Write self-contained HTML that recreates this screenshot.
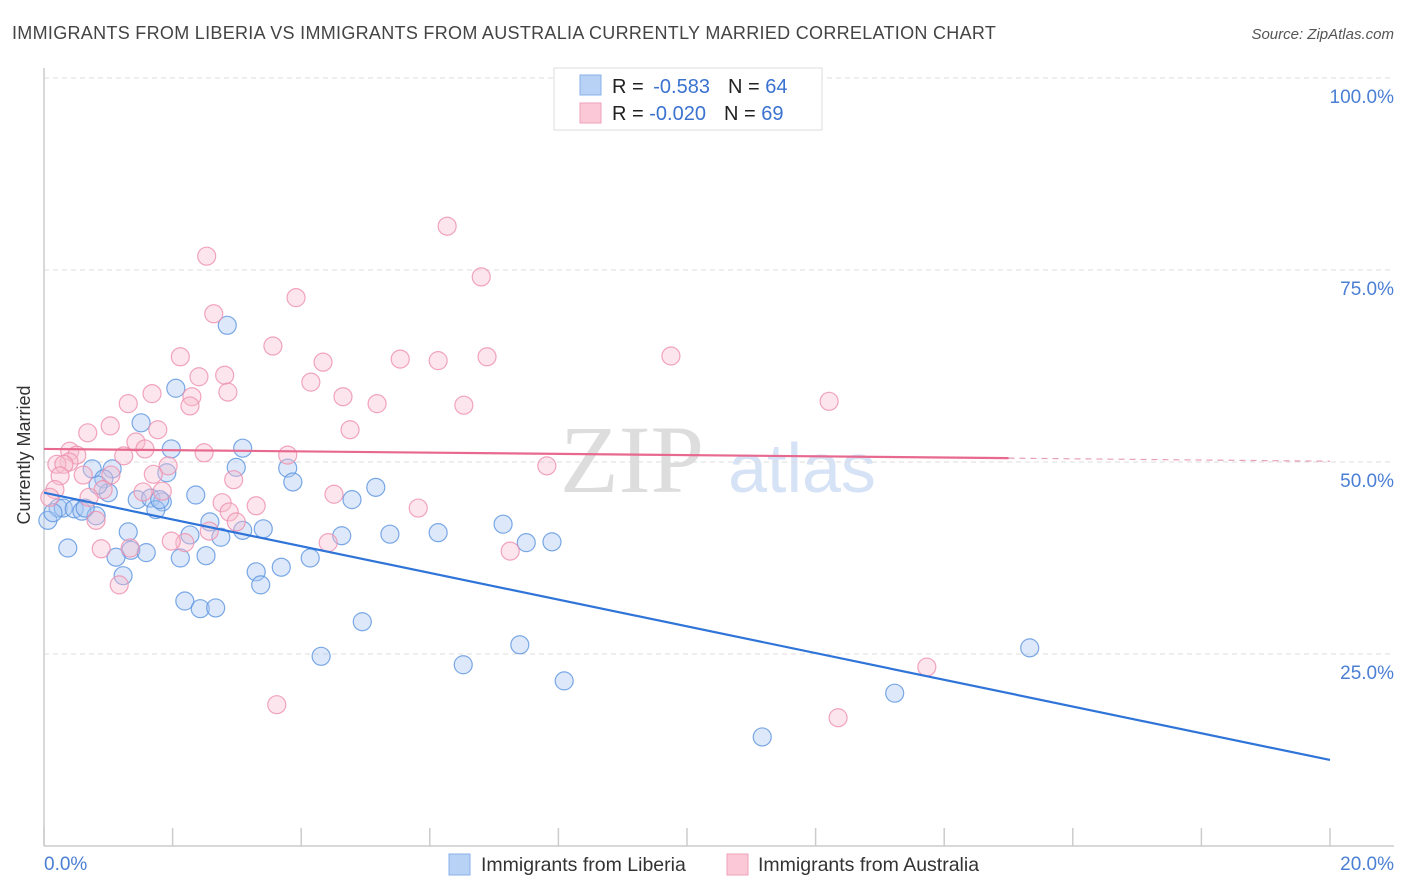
<!DOCTYPE html>
<html><head><meta charset="utf-8"><style>
body{margin:0;background:#fff;font-family:"Liberation Sans",sans-serif}
svg{display:block}
</style></head><body>
<svg id="c" width="1406" height="892" xmlns="http://www.w3.org/2000/svg">
<text x="12" y="39" font-size="18" fill="#444" letter-spacing="0.3">IMMIGRANTS FROM LIBERIA VS IMMIGRANTS FROM AUSTRALIA CURRENTLY MARRIED CORRELATION CHART</text>
<text x="1394" y="39" font-size="15" fill="#555" font-style="italic" text-anchor="end">Source: ZipAtlas.com</text>
<text x="632" y="492" font-size="96" fill="#ddd" font-family="Liberation Serif,serif" text-anchor="middle">ZIP</text>
<text x="802" y="492" font-size="70" fill="#d6e2f5" text-anchor="middle">atlas</text>
<g id="grid"></g><g id="marks"></g><g id="trend"></g>
<text x="30" y="455" font-size="18" fill="#333" text-anchor="middle" transform="rotate(-90 30 455)">Currently Married</text>
<text x="44" y="870" font-size="19" fill="#4a7fd4">0.0%</text>
<text x="1394" y="870" font-size="19" fill="#4a7fd4" text-anchor="end">20.0%</text>
<g>
<rect x="554" y="68" width="268" height="62" fill="#fff" stroke="#ddd"/>
<rect x="580" y="75" width="21" height="20" fill="#b8d2f5" stroke="#8ab2ea"/>
<rect x="580" y="103" width="21" height="20" fill="#fac8d6" stroke="#f0a0b8"/>
<text x="612" y="93" font-size="20" fill="#222">R = <tspan fill="#3a72d0" dx="4">-0.583</tspan><tspan dx="18">N = </tspan><tspan fill="#3a72d0">64</tspan></text>
<text x="612" y="120" font-size="20" fill="#222">R = <tspan fill="#3a72d0">-0.020</tspan><tspan dx="18">N = </tspan><tspan fill="#3a72d0">69</tspan></text>
</g>
<g>
<rect x="449" y="854" width="21" height="21" fill="#b8d2f5" stroke="#8ab2ea"/>
<text x="481" y="871" font-size="19.5" fill="#333">Immigrants from Liberia</text>
<rect x="727" y="854" width="21" height="21" fill="#fac8d6" stroke="#f0a0b8"/>
<text x="758" y="871" font-size="19.5" fill="#333">Immigrants from Australia</text>
</g>
</svg>
<script>
const yTicks=[25,50,75,100];
const blueX=[2.85,2.05,1.51,1.98,3.09,1.06,0.75,2.99,3.79,1.91,0.93,3.87,2.36,1.00,1.45,1.66,1.84,5.16,4.79,1.74,0.22,0.30,0.47,0.59,0.81,2.58,3.41,1.31,7.14,3.09,2.27,2.75,4.63,5.38,6.13,7.50,7.90,0.37,1.35,1.12,1.59,2.12,2.52,4.14,3.30,3.69,1.23,3.37,2.19,2.43,2.67,4.95,4.31,7.40,6.52,8.09,15.33,13.23,11.17,0.06,0.14,0.64,1.80,0.84];
const blueY=[67.8,59.6,55.1,51.7,51.8,49.1,49.1,49.3,49.2,48.6,47.8,47.4,45.7,46.0,45.1,45.3,44.8,46.7,45.1,43.8,44.0,44.0,43.9,43.6,43.0,42.2,41.3,40.9,41.9,41.1,40.5,40.2,40.4,40.6,40.8,39.5,39.6,38.8,38.5,37.6,38.2,37.5,37.8,37.5,35.7,36.3,35.2,34.0,31.9,30.9,31.0,29.2,24.7,26.2,23.6,21.5,25.8,19.9,14.2,42.4,43.4,44.0,45.1,47.0];
const pinkX=[6.27,2.53,6.80,3.92,2.64,3.56,9.75,2.12,4.34,5.54,6.13,6.89,2.81,2.41,4.15,2.86,1.68,2.30,4.65,1.31,5.18,6.53,12.21,2.27,1.03,0.68,4.76,1.77,1.43,1.57,2.49,3.79,0.40,0.51,1.24,0.39,0.20,0.31,7.82,1.93,2.95,1.70,1.04,0.61,0.25,0.92,1.84,1.54,4.51,0.17,0.09,2.77,3.30,5.82,0.70,2.88,0.81,2.99,2.57,2.19,0.89,4.42,1.98,7.25,1.34,1.17,13.73,3.62,12.35];
const pinkY=[80.7,76.8,74.1,71.4,69.3,65.1,63.8,63.7,63.0,63.4,63.2,63.7,61.3,61.1,60.4,59.1,58.9,58.5,58.5,57.6,57.6,57.4,57.9,57.3,54.7,53.8,54.2,54.2,52.6,51.7,51.2,50.9,51.4,50.9,50.8,50.0,49.7,49.7,49.5,49.5,47.7,48.4,48.3,48.3,48.2,46.4,46.2,46.1,45.8,46.4,45.4,44.7,44.3,44.0,45.4,43.5,42.4,42.2,41.0,39.5,38.7,39.5,39.7,38.4,38.8,34.0,23.3,18.4,16.7];
const blueTrend=[46.0,11.2];
const pinkTrend=[51.7,50.5,50.1];
const pinkSolidEnd=15;
const NS='http://www.w3.org/2000/svg';
const X=v=>44+v/20*1286, Y=v=>846-v/100*768;
function mk(t,a,p){const e=document.createElementNS(NS,t);for(const k in a)e.setAttribute(k,a[k]);document.getElementById(p).appendChild(e);return e;}
yTicks.forEach(t=>{
 const l=mk('line',{x1:44,x2:1394,y1:Y(t),y2:Y(t),stroke:'#ddd','stroke-dasharray':'5,4'},'grid');
 
 
 const tx=mk('text',{x:1394,y:Y(t)+25,'font-size':19,fill:'#4a7fd4','text-anchor':'end'},'grid');
 tx.textContent=t.toFixed(1)+'%';
 
 
});
let ax=mk('line',{x1:44,x2:44,y1:68,y2:846,stroke:'#ccc','stroke-width':1.5},'grid');


ax=mk('line',{x1:44,x2:1394,y1:846,y2:846,stroke:'#ccc','stroke-width':1.5},'grid');


for(let i=0;i<=10;i++){const t=mk('line',{x1:X(i*2),x2:X(i*2),y1:828,y2:846,stroke:'#ccc','stroke-width':1.5},'grid');
 
 }
function pts(xs,ys,fill,stroke,name){xs.forEach((x,i)=>{const c=mk('circle',{cx:X(x),cy:Y(ys[i]),r:9,fill:fill,'fill-opacity':0.4,stroke:stroke,'stroke-opacity':0.8,'stroke-width':1.2},'marks');
 
 });}
pts(blueX,blueY,'#a9c8f2','#5b93e0','liberia-point');
pts(pinkX,pinkY,'#f8bdd0','#ee8fae','australia-point');
let tl=mk('line',{x1:X(0),y1:Y(blueTrend[0]),x2:X(20),y2:Y(blueTrend[1]),stroke:'#2f74d8','stroke-width':2.2},'trend');


tl=mk('line',{x1:X(0),y1:Y(pinkTrend[0]),x2:X(pinkSolidEnd),y2:Y(pinkTrend[1]),stroke:'#e8698f','stroke-width':2.2},'trend');


tl=mk('line',{x1:X(pinkSolidEnd),y1:Y(pinkTrend[1]),x2:X(20),y2:Y(pinkTrend[2]),stroke:'#e8a0b6','stroke-width':1.2,'stroke-dasharray':'6,5'},'trend');


</script>
</body></html>
